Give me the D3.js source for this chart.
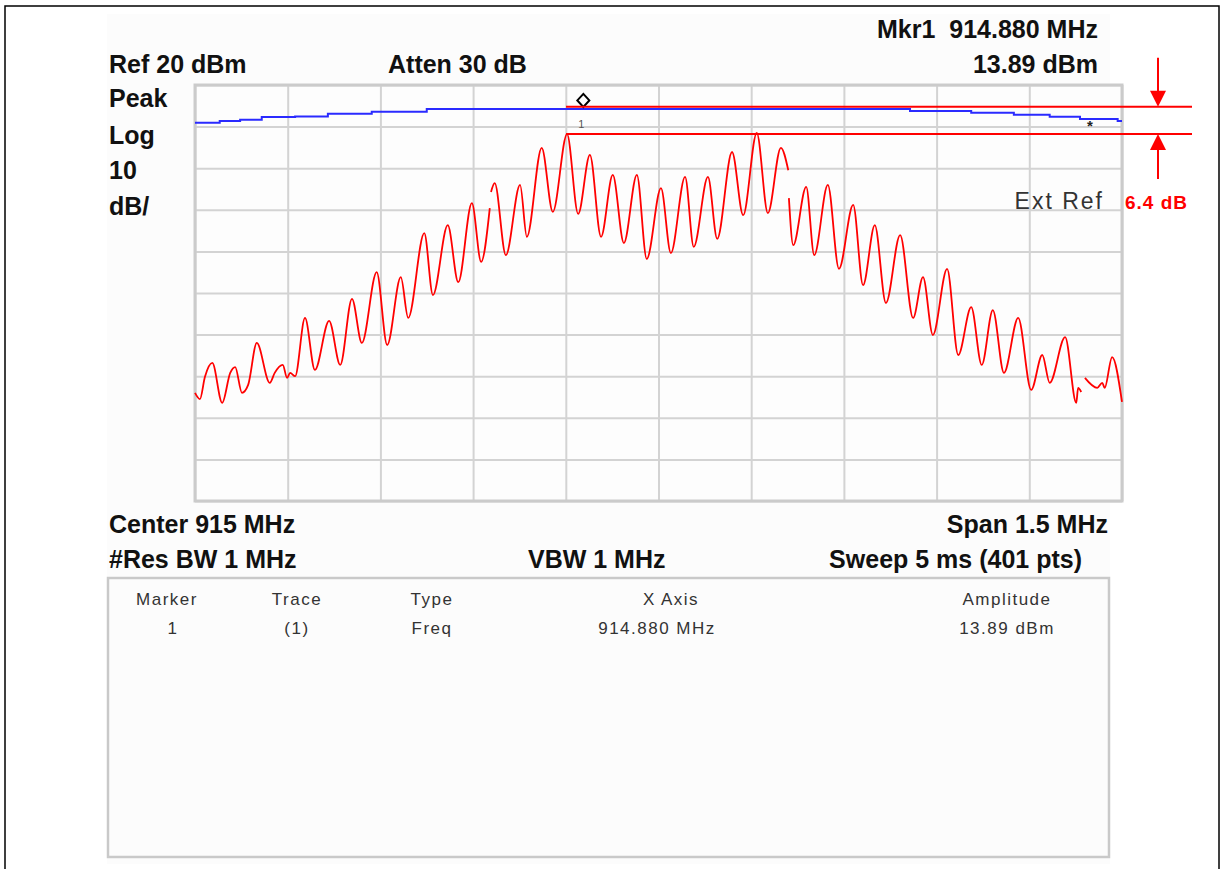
<!DOCTYPE html>
<html>
<head>
<meta charset="utf-8">
<script src="https://cdn.jsdelivr.net/npm/d3@7"></script>
<style>
  html, body { margin: 0; padding: 0; background: #fff; }
  svg { display: block; font-family: "Liberation Sans", Arial, sans-serif; }
</style>
</head>
<body>
<div id="chart"></div>
<script>
// analyzer screen: 915 MHz centre, 1.5 MHz span, ref 20 dBm, 10 dB/div

const freqRange = [914.25, 915.75];
const ampRange = [-80, 20];

// red trace (ext ref measurement), null = small break in the trace
const redFreq = [
  914.250, 914.258, 914.266, 914.278, 914.294, 914.307, 914.315, 914.326, 914.336, 914.350,
  914.371, 914.379, 914.392, 914.399, 914.404, 914.412, 914.428, 914.444, 914.467, 914.485,
  914.504, 914.520, 914.544, 914.561, 914.583, 914.595, 914.621, 914.635, 914.659, 914.676,
  914.698, 914.713, 914.727, 914.728, 914.729, 914.735, 914.753, 914.776, 914.787, 914.811,
  914.829, 914.852, 914.870, 914.889, 914.907, 914.926, 914.944, 914.965, 914.981, 915.004,
  915.020, 915.043, 915.057, 915.080, 915.095, 915.119, 915.137, 915.159, 915.177, 915.198,
  915.210, 915.2105, 915.211, 915.218, 915.239, 915.252, 915.274, 915.292, 915.315, 915.331,
  915.350, 915.368, 915.391, 915.412, 915.428, 915.444, 915.467, 915.485, 915.506, 915.523,
  915.541, 915.559, 915.582, 915.603, 915.621, 915.633, 915.658, 915.676, 915.679, 915.684,
  915.687, 915.690, 915.710, 915.718, 915.722, 915.734, 915.750
];
const redDbm = [
  -54.0, -55.5, -50.2, -46.8, -56.4, -49.2, -47.8, -54.0, -52.1, -42.0,
  -51.6, -49.2, -47.3, -50.4, -49.2, -50.0, -36.0, -48.5, -36.7, -47.3,
  -31.4, -42.0, -25.0, -42.5, -26.2, -36.0, -15.6, -30.5, -13.7, -27.4,
  -8.4, -22.5, -9.6, null, -5.7, -3.6, -20.9, -4.0, -16.5, 4.9,
  -10.5, 8.2, -11.0, 3.2, -16.5, -1.6, -18.0, -1.6, -21.8, -4.8,
  -20.4, -2.1, -18.9, -2.1, -17.0, 3.9, -11.3, 8.5, -10.8, 4.9,
  -0.5, null, -7.2, -18.5, -4.5, -20.9, -4.0, -24.2, -8.8, -28.1,
  -13.7, -32.4, -16.1, -36.0, -26.2, -40.1, -24.2, -44.9, -33.4, -47.3,
  -34.1, -49.2, -36.0, -53.3, -44.9, -51.6, -40.6, -56.4, -52.8, -53.8,
  null, -50.4, -52.8, -51.6, -52.8, -45.4, -56.2
];

// blue trace (stepped)
const blueFreq = [914.250, 914.290, 914.323, 914.358, 914.412, 914.465, 914.536, 914.625, 915.407, 915.506, 915.575, 915.633, 915.682, 915.743, 915.750];
const blueDbm = [10.94, 11.35, 11.66, 12.30, 12.43, 13.10, 13.55, 14.23, 13.75, 13.34, 12.86, 12.38, 11.83, 11.35, 11.35];

// marker + delta annotation
const marker = { freq: 914.880, dbm: 13.89 };
const starFreq = 915.698;
const deltaTop = 14.8;
const deltaBottom = 8.2;
const deltaStartFreq = 914.852;

const headerLeft = ["Ref 20 dBm", "Peak", "Log", "10", "dB/"];
const tableHeads = ["Marker", "Trace", "Type", "X Axis", "Amplitude"];
const tableRow = ["1", "(1)", "Freq", "914.880 MHz", "13.89 dBm"];

const W = 1228, H = 869;
const plot = { left: 195, top: 85, right: 1122, bottom: 501 };

const svg = d3.select("#chart").append("svg")
  .attr("width", W)
  .attr("height", H);

// outer frame + panel
svg.append("rect")
  .attr("x", 5).attr("y", 6)
  .attr("width", 1214).attr("height", 900)
  .attr("fill", "#fff")
  .attr("stroke", "#000")
  .attr("stroke-width", 1.5);

svg.append("rect")
  .attr("x", 107).attr("y", 14)
  .attr("width", 1003).attr("height", 850)
  .attr("fill", "#fcfcfc");

const x = d3.scaleLinear().domain(freqRange).range([plot.left, plot.right]);
const y = d3.scaleLinear().domain(ampRange).range([plot.bottom, plot.top]);

// grid
const g = svg.append("g");
g.append("rect")
  .attr("x", plot.left).attr("y", plot.top)
  .attr("width", plot.right - plot.left)
  .attr("height", plot.bottom - plot.top)
  .attr("fill", "#fdfdfd");

const xTicks = d3.range(11).map((i) => freqRange[0] + i * 0.15);
const yTicks = d3.range(11).map((i) => ampRange[0] + i * 10);

g.append("g")
  .attr("transform", `translate(0,${plot.bottom})`)
  .call(d3.axisBottom(x).tickValues(xTicks).tickSize(-(plot.bottom - plot.top)).tickFormat(""))
  .call((a) => a.select(".domain").remove())
  .call((a) => a.selectAll("line").attr("stroke", "#d3d3d3").attr("stroke-width", 2));

g.append("g")
  .attr("transform", `translate(${plot.left},0)`)
  .call(d3.axisLeft(y).tickValues(yTicks).tickSize(-(plot.right - plot.left)).tickFormat(""))
  .call((a) => a.select(".domain").remove())
  .call((a) => a.selectAll("line").attr("stroke", "#d3d3d3").attr("stroke-width", 2));

g.append("rect")
  .attr("x", plot.left).attr("y", plot.top)
  .attr("width", plot.right - plot.left)
  .attr("height", plot.bottom - plot.top)
  .attr("fill", "none")
  .attr("stroke", "#cbcbcb")
  .attr("stroke-width", 3);

// traces
const bluePts = blueFreq.map((f, i) => [f, blueDbm[i]]);
svg.append("path")
  .datum(bluePts)
  .attr("fill", "none")
  .attr("stroke", "#2a2aff")
  .attr("stroke-width", 2)
  .attr("d", d3.line().x((d) => x(d[0])).y((d) => y(d[1])).curve(d3.curveStepAfter));

const redPts = redFreq.map((f, i) => [f, redDbm[i]]);
svg.append("path")
  .datum(redPts)
  .attr("fill", "none")
  .attr("stroke", "#ff0000")
  .attr("stroke-width", 1.8)
  .attr("stroke-linejoin", "round")
  .attr("d", d3.line()
    .defined((d) => d[1] !== null)
    .x((d) => x(d[0]))
    .y((d) => y(d[1]))
    .curve(d3.curveMonotoneX));

// marker 1
const mx = x(marker.freq) - 1, my = y(marker.dbm) - 10;
svg.append("path")
  .attr("d", `M${mx},${my - 6.5}L${mx + 6},${my}L${mx},${my + 6.5}L${mx - 6},${my}Z`)
  .attr("fill", "#fff")
  .attr("stroke", "#000")
  .attr("stroke-width", 2);
svg.append("text")
  .attr("x", mx - 2).attr("y", y(marker.dbm) + 18)
  .attr("text-anchor", "middle")
  .attr("font-size", 11)
  .attr("fill", "#555")
  .text("1");

svg.append("text")
  .attr("x", x(starFreq)).attr("y", y(11.83) + 12)
  .attr("text-anchor", "middle")
  .attr("font-size", 15)
  .attr("font-weight", "bold")
  .attr("fill", "#222")
  .text("*");

// delta lines + arrows
const lineEnd = plot.right + 70;
const arrowX = plot.right + 36;
[deltaTop, deltaBottom].forEach((v) => {
  svg.append("line")
    .attr("x1", x(deltaStartFreq) - 1).attr("x2", lineEnd)
    .attr("y1", y(v)).attr("y2", y(v))
    .attr("stroke", "#ff0000")
    .attr("stroke-width", 2);
});

const yt = y(deltaTop), yb = y(deltaBottom);
svg.append("line")
  .attr("x1", arrowX).attr("x2", arrowX)
  .attr("y1", yt - 49).attr("y2", yt - 14)
  .attr("stroke", "#ff0000").attr("stroke-width", 2);
svg.append("path")
  .attr("d", `M${arrowX - 8},${yt - 16}L${arrowX + 8},${yt - 16}L${arrowX},${yt}Z`)
  .attr("fill", "#ff0000");
svg.append("line")
  .attr("x1", arrowX).attr("x2", arrowX)
  .attr("y1", yb + 14).attr("y2", yb + 45)
  .attr("stroke", "#ff0000").attr("stroke-width", 2);
svg.append("path")
  .attr("d", `M${arrowX - 8},${yb + 16}L${arrowX + 8},${yb + 16}L${arrowX},${yb}Z`)
  .attr("fill", "#ff0000");

svg.append("text")
  .attr("x", plot.right + 3).attr("y", 209)
  .attr("font-size", 19)
  .attr("font-weight", "bold")
  .attr("letter-spacing", 1)
  .attr("fill", "#ff0000")
  .text("6.4 dB");

svg.append("text")
  .attr("x", 1104).attr("y", 209)
  .attr("text-anchor", "end")
  .attr("font-size", 23)
  .attr("letter-spacing", 2)
  .attr("fill", "#333")
  .text("Ext Ref");

// header / footer labels
const bold = (tx, ty, s, anchor) => svg.append("text")
  .attr("x", tx).attr("y", ty)
  .attr("text-anchor", anchor || "start")
  .attr("font-size", 25)
  .attr("font-weight", "bold")
  .attr("fill", "#111")
  .text(s);

bold(1098, 38, "Mkr1  914.880 MHz", "end").attr("xml:space", "preserve");
const leftY = [73, 107, 144, 179, 215];
headerLeft.forEach((s, i) => bold(109, leftY[i], s));
bold(388, 73, "Atten 30 dB");
bold(1098, 73, "13.89 dBm", "end");
bold(109, 533, "Center 915 MHz");
bold(1108, 533, "Span 1.5 MHz", "end");
bold(109, 568, "#Res BW 1 MHz");
bold(528, 568, "VBW 1 MHz");
bold(1082, 568, "Sweep 5 ms (401 pts)", "end");

// marker table
svg.append("rect")
  .attr("x", 108).attr("y", 578)
  .attr("width", 1001).attr("height", 279)
  .attr("fill", "#fcfcfc")
  .attr("stroke", "#c9c9c9")
  .attr("stroke-width", 2.5);

const headX = [167, 297, 432, 671, 1007];
const rowX = [173, 297, 432, 657, 1007];
tableHeads.forEach((s, i) => {
  svg.append("text")
    .attr("x", headX[i]).attr("y", 605)
    .attr("text-anchor", "middle")
    .attr("font-size", 17)
    .attr("letter-spacing", 1.5)
    .attr("fill", "#333")
    .text(s);
});
tableRow.forEach((s, i) => {
  svg.append("text")
    .attr("x", rowX[i]).attr("y", 634)
    .attr("text-anchor", "middle")
    .attr("font-size", 17)
    .attr("letter-spacing", 1.5)
    .attr("fill", "#333")
    .text(s);
});
</script>
</body>
</html>
